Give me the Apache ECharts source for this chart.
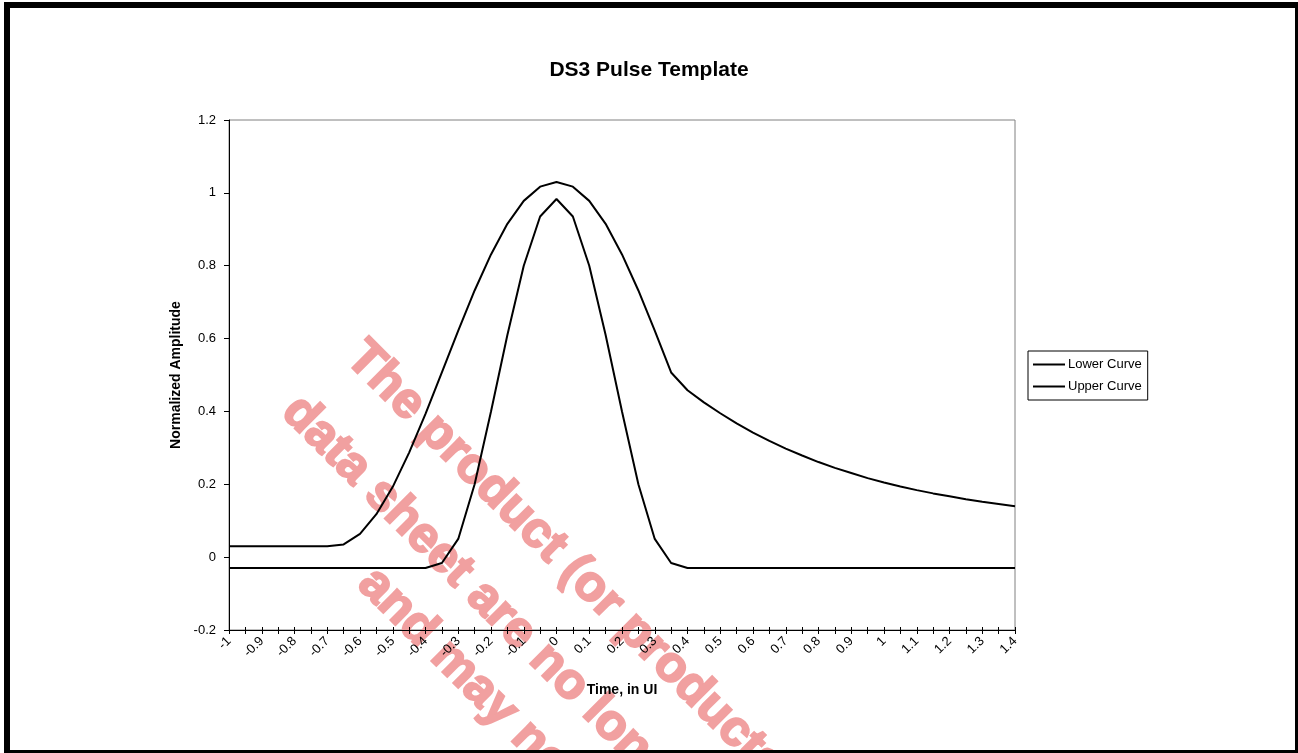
<!DOCTYPE html>
<html>
<head>
<meta charset="utf-8">
<script src="https://cdn.jsdelivr.net/npm/echarts@6/dist/echarts.min.js"></script>
<style>
html,body{margin:0;padding:0;background:#fff;}
#chart{width:1298px;height:753px;}
</style>
</head>
<body>
<div id="chart"></div>
<script>
// Time axis categories, in UI (step 0.05)
const timeCategories = ["-1","-0.95","-0.9","-0.85","-0.8","-0.75","-0.7","-0.65","-0.6","-0.55",
  "-0.5","-0.45","-0.4","-0.35","-0.3","-0.25","-0.2","-0.15","-0.1","-0.05",
  "0","0.05","0.1","0.15","0.2","0.25","0.3","0.35","0.4","0.45",
  "0.5","0.55","0.6","0.65","0.7","0.75","0.8","0.85","0.9","0.95",
  "1","1.05","1.1","1.15","1.2","1.25","1.3","1.35","1.4"];

const lowerCurve = [-0.03,-0.03,-0.03,-0.03,-0.03,-0.03,-0.03,-0.03,-0.03,-0.03,
  -0.03,-0.03,-0.03,-0.016,0.05,0.2,0.4,0.61,0.80,0.935,
  0.983,0.935,0.80,0.61,0.4,0.2,0.05,-0.016,-0.03,-0.03,
  -0.03,-0.03,-0.03,-0.03,-0.03,-0.03,-0.03,-0.03,-0.03,-0.03,
  -0.03,-0.03,-0.03,-0.03,-0.03,-0.03,-0.03,-0.03,-0.03];

const upperCurve = [0.03,0.03,0.03,0.03,0.03,0.03,0.03,0.035,0.064,0.118,
  0.193,0.287,0.393,0.507,0.622,0.732,0.831,0.915,0.978,1.017,
  1.03,1.017,0.978,0.915,0.831,0.732,0.622,0.507,0.458,0.425,
  0.395,0.367,0.342,0.319,0.298,0.279,0.261,0.245,0.231,0.217,
  0.205,0.194,0.184,0.175,0.167,0.159,0.152,0.146,0.140];

const seriesNames = ["Lower Curve","Upper Curve"];
const chartTitle = "DS3 Pulse Template";
const xAxisTitle = "Time, in UI";
const yAxisTitle = "Normalized Amplitude";
const watermarkLines = [
  "The product (or products) described in this",
  "data sheet are no longer being manufactured",
  "and may no longer be available."
];

const FONT = "Arial, 'Liberation Sans', sans-serif";
const chart = echarts.init(document.getElementById('chart'), null, {renderer:'canvas'});

const wmPos = [[354,350],[290,404],[366,576]];

const option = {
  animation:false,
  backgroundColor:'#fff',
  title:{text:chartTitle, left:'center', top:55,
    textStyle:{fontFamily:FONT, fontSize:21, fontWeight:'bold', color:'#000'}},
  legend:{
    orient:'vertical', left:1028, top:351,
    data:seriesNames,
    icon:'rect',
    itemWidth:32, itemHeight:2, itemGap:9,
    padding:[7,6,7,5],
    borderColor:'#000', borderWidth:1,
    textStyle:{fontFamily:FONT, fontSize:13, color:'#000', padding:[0,0,0,-2]}
  },
  grid:{left:229, top:120, right:283, bottom:123, show:true, borderColor:'#808080', borderWidth:1, backgroundColor:'transparent'},
  xAxis:[{
    type:'category', data:timeCategories, boundaryGap:false, z:6,
    position:'bottom',
    name:xAxisTitle, nameLocation:'middle', nameGap:53,
    nameTextStyle:{fontFamily:FONT, fontSize:14, fontWeight:'bold', color:'#000'},
    axisLine:{onZero:false, lineStyle:{color:'#000', width:1}},
    axisTick:{show:true, interval:0, length:4, lineStyle:{color:'#000'}},
    axisLabel:{interval:1, rotate:45, margin:9, fontFamily:FONT, fontSize:13, color:'#000'},
    splitLine:{show:false}
  },{
    type:'category', data:timeCategories, boundaryGap:false, z:6,
    position:'bottom',
    axisLine:{show:false, onZero:false},
    axisTick:{show:true, inside:true, interval:0, length:3, lineStyle:{color:'#000'}},
    axisLabel:{show:false},
    splitLine:{show:false}
  }],
  yAxis:{
    type:'value', min:-0.2, max:1.2, interval:0.2, z:6,
    name:yAxisTitle, nameLocation:'middle', nameGap:45,
    nameTextStyle:{fontFamily:FONT, fontSize:14, fontWeight:'bold', color:'#000'},
    axisLine:{show:true, lineStyle:{color:'#000', width:1}},
    axisTick:{show:true, length:5, lineStyle:{color:'#000'}},
    axisLabel:{margin:13, fontFamily:FONT, fontSize:13, color:'#000'},
    splitLine:{show:false}
  },
  series:[
    {name:seriesNames[0], type:'line', z:5, data:lowerCurve, symbol:'none', lineStyle:{color:'#000', width:2}, itemStyle:{color:'#000'}},
    {name:seriesNames[1], type:'line', z:5, data:upperCurve, symbol:'none', lineStyle:{color:'#000', width:2}, itemStyle:{color:'#000'}}
  ],
  graphic:[
    {type:'rect', shape:{x:4,y:2,width:1294,height:6}, style:{fill:'#000'}, z:100},
    {type:'rect', shape:{x:4,y:2,width:6,height:751}, style:{fill:'#000'}, z:100},
    {type:'rect', shape:{x:1295,y:2,width:3,height:751}, style:{fill:'#000'}, z:100},
    {type:'rect', shape:{x:4,y:750,width:1294,height:3}, style:{fill:'#000'}, z:100}
  ].concat(watermarkLines.map((t,i)=>({
    type:'text', x:wmPos[i][0], y:wmPos[i][1], rotation:-Math.PI/4, z:1,
    style:{text:t, fill:'#F1A0A0', stroke:'#F1A0A0', lineWidth:2.2, fontSize:50, fontWeight:'bold', fontFamily:FONT,
      align:'left', verticalAlign:'middle', textAlign:'left', textVerticalAlign:'middle'}
  })))
};
chart.setOption(option);
</script>
</body>
</html>
